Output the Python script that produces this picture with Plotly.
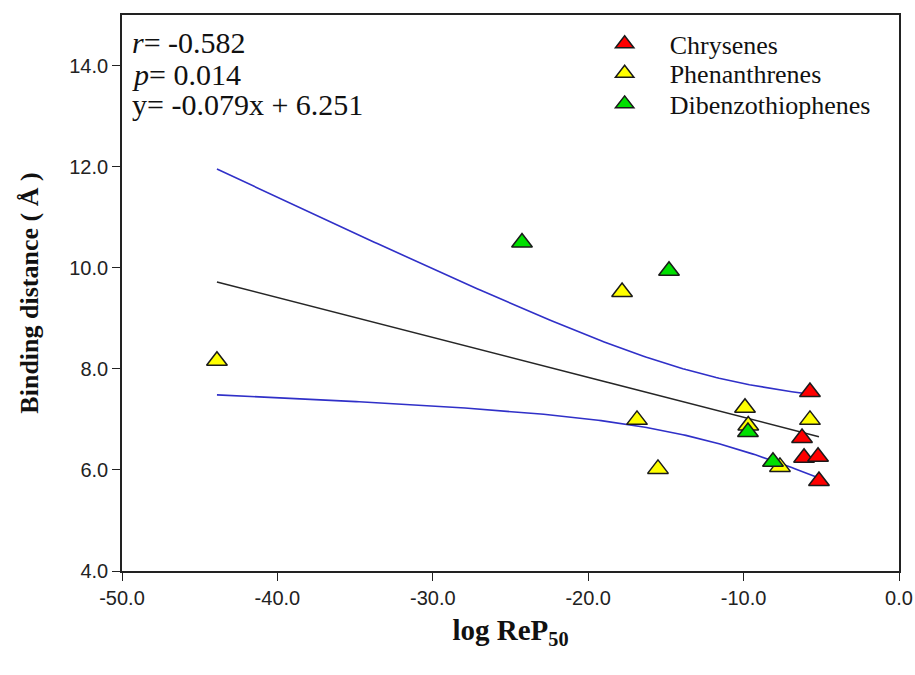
import numpy as np
import plotly.graph_objects as go

# Binding distance vs. log ReP50 for three PAH classes
chrysenes_x = [-5.73, -6.24, -6.11, -5.21, -5.15]
chrysenes_y = [7.54, 6.63, 6.24, 6.26, 5.78]

phenanthrenes_x = [-43.89, -17.82, -16.86, -15.51, -9.91, -9.70, -7.66, -5.73]
phenanthrenes_y = [8.16, 9.52, 6.99, 6.02, 7.23, 6.88, 6.06, 6.99]

dibenzothiophenes_x = [-24.26, -14.80, -9.72, -8.11]
dibenzothiophenes_y = [10.50, 9.94, 6.75, 6.16]

# Reported regression statistics
r_value = -0.582
p_value = 0.014
slope = -0.079
intercept = 6.251
t_crit = 2.1314  # two-sided 95 %, df = n - 2 = 15

x_ticks = [-50, -40, -30, -20, -10, 0]
y_ticks = [4, 6, 8, 10, 12, 14]

all_x = np.array(chrysenes_x + phenanthrenes_x + dibenzothiophenes_x)
all_y = np.array(chrysenes_y + phenanthrenes_y + dibenzothiophenes_y)
n = len(all_x)

# Fitted line and 95 % confidence band of the mean response
xs = np.linspace(all_x.min(), all_x.max(), 200)
fit = intercept + slope * xs
resid = all_y - (intercept + slope * all_x)
s = np.sqrt(np.sum(resid ** 2) / (n - 2))
sxx = np.sum((all_x - all_x.mean()) ** 2)
half = t_crit * s * np.sqrt(1.0 / n + (xs - all_x.mean()) ** 2 / sxx)

fig = go.Figure()

fig.add_trace(go.Scatter(x=xs, y=fit + half, mode="lines",
                         line=dict(color="#3030c8", width=1.6),
                         showlegend=False, hoverinfo="skip"))
fig.add_trace(go.Scatter(x=xs, y=fit - half, mode="lines",
                         line=dict(color="#3030c8", width=1.6),
                         showlegend=False, hoverinfo="skip"))
fig.add_trace(go.Scatter(x=xs, y=fit, mode="lines",
                         line=dict(color="#262626", width=1.6),
                         showlegend=False, hoverinfo="skip"))

marker_common = dict(symbol="triangle-up", size=18,
                     line=dict(color="#1a1a1a", width=1.5))

fig.add_trace(go.Scatter(x=phenanthrenes_x, y=phenanthrenes_y, mode="markers",
                         name="Phenanthrenes", legend="legend2",
                         marker=dict(color="#ffff00", **marker_common)))
fig.add_trace(go.Scatter(x=dibenzothiophenes_x, y=dibenzothiophenes_y, mode="markers",
                         name="Dibenzothiophenes", legend="legend3",
                         marker=dict(color="#00e000", **marker_common)))
fig.add_trace(go.Scatter(x=chrysenes_x, y=chrysenes_y, mode="markers",
                         name="Chrysenes", legend="legend",
                         marker=dict(color="#ff0000", **marker_common)))

serif = "Liberation Serif, Times New Roman, serif"
sans = "Liberation Sans, Arial, sans-serif"

stat_lines = [
    f"<i>r</i>= {r_value:.3f}",
    f"<i>p</i>= {p_value:.3f}",
    f"y= {slope:.3f}x + {intercept:.3f}",
]
stat_y = [0.950, 0.893, 0.839]
annotations = []
for txt, yy in zip(stat_lines, stat_y):
    annotations.append(dict(
        x=0.010, y=yy, xref="paper", yref="paper",
        xanchor="left", yanchor="middle", showarrow=False,
        text=txt, font=dict(family=serif, size=30, color="#111"),
    ))


def legend_box(yy):
    return dict(
        x=0.589, y=yy, xanchor="left", yanchor="middle",
        font=dict(family=serif, size=26, color="#111"),
        bgcolor="rgba(0,0,0,0)", itemwidth=80,
    )


fig.update_layout(
    width=915, height=675,
    margin=dict(l=122, r=16, t=15, b=104),
    paper_bgcolor="white", plot_bgcolor="white",
    annotations=annotations,
    legend=legend_box(0.948),
    legend2=legend_box(0.895),
    legend3=legend_box(0.840),
    xaxis=dict(
        range=[-50, 0], tickvals=x_ticks,
        ticktext=[f"{v:.1f}" for v in x_ticks],
        ticks="outside", ticklen=8, tickwidth=1.3, tickcolor="#222",
        showline=True, linecolor="#222", linewidth=1.6, mirror=True,
        showgrid=False, zeroline=False, automargin=False,
        tickfont=dict(family=sans, size=20, color="#222"),
        title=dict(text="<b>log ReP<sub>50</sub></b>",
                   font=dict(family=serif, size=29, color="#111"),
                   standoff=12),
    ),
    yaxis=dict(
        range=[4, 15], tickvals=y_ticks,
        ticktext=[f"{v:.1f}" for v in y_ticks],
        ticks="outside", ticklen=8, tickwidth=1.3, tickcolor="#222",
        showline=True, linecolor="#222", linewidth=1.6, mirror=True,
        showgrid=False, zeroline=False, automargin=False,
        tickfont=dict(family=sans, size=20, color="#222"),
        title=dict(text="<b>Binding distance ( Å )</b>",
                   font=dict(family=serif, size=26, color="#111"),
                   standoff=23),
    ),
)

fig.write_html("out.html")
